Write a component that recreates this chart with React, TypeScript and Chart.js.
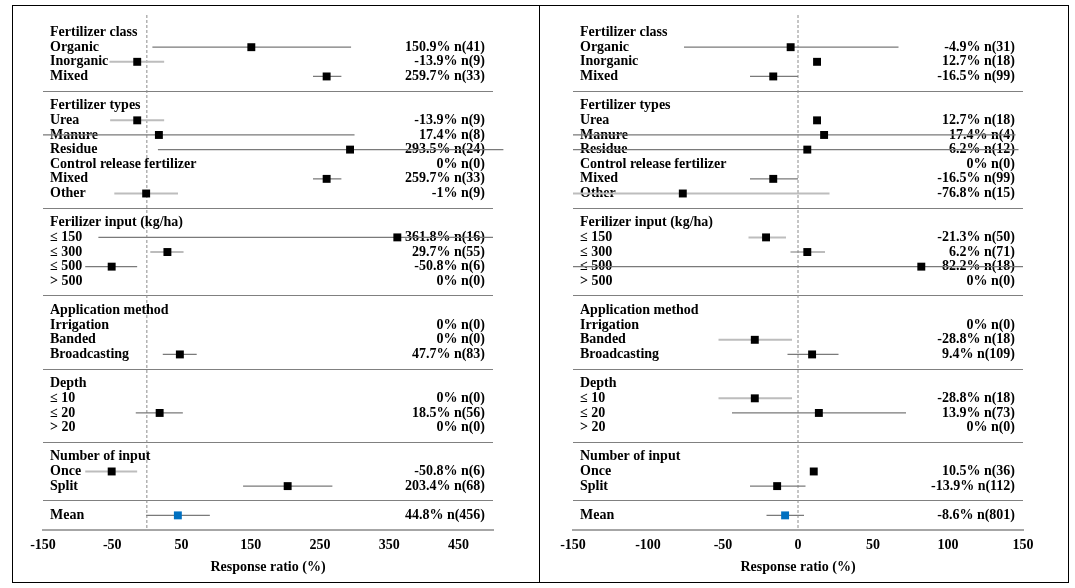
import React, { useEffect, useRef } from 'react';
import { Chart, registerables } from 'chart.js';

Chart.register(...registerables);

// ---- Rows (top to bottom) ----
const ROW_LABELS = [
  'Fertilizer class', 'Organic', 'Inorganic', 'Mixed', '',
  'Fertilizer types', 'Urea', 'Manure', 'Residue', 'Control release fertilizer', 'Mixed', 'Other', '',
  'Ferilizer input (kg/ha)', '≤ 150', '≤ 300', '≤ 500', '> 500', '',
  'Application method', 'Irrigation', 'Banded', 'Broadcasting', '',
  'Depth', '≤ 10', '≤ 20', '> 20', '',
  'Number of input', 'Once', 'Split', '',
  'Mean',
];
const SEPARATOR_ROWS = [4, 12, 18, 23, 28, 32];
const MEAN_ROW = 33;
const Y_MIN = -1.2;
const Y_MAX = 34;

// ---- Left panel ----
const A_EFFECT = [null, 150.9, -13.9, 259.7, null, null, -13.9, 17.4, 293.5, 0, 259.7, -1, null, null, 361.8, 29.7, -50.8, 0, null, null, 0, 0, 47.7, null, null, 0, 18.5, 0, null, null, -50.8, 203.4, null, 44.8];
const A_N = [null, 41, 9, 33, null, null, 9, 8, 24, 0, 33, 9, null, null, 16, 55, 6, 0, null, null, 0, 0, 83, null, null, 0, 56, 0, null, null, 6, 68, null, 456];
const A_LOW = [null, 8, -54, 240, null, null, -53, -150, 16, null, 240, -47, null, null, -70, 5, -89, null, null, null, null, null, 23, null, null, null, -16, null, null, null, -89, 139, null, -1];
const A_HIGH = [null, 295, 25, 281, null, null, 25, 300, 515, null, 281, 45, null, null, 500, 53, -14, null, null, null, null, null, 72, null, null, null, 52, null, null, null, -14, 268, null, 91];
const A_X_TICKS = [-150, -50, 50, 150, 250, 350, 450];
const A_X_MIN = -150;
const A_X_MAX = 500;

// ---- Right panel ----
const B_EFFECT = [null, -4.9, 12.7, -16.5, null, null, 12.7, 17.4, 6.2, 0, -16.5, -76.8, null, null, -21.3, 6.2, 82.2, 0, null, null, 0, -28.8, 9.4, null, null, -28.8, 13.9, 0, null, null, 10.5, -13.9, null, -8.6];
const B_N = [null, 31, 18, 99, null, null, 18, 4, 12, 0, 99, 15, null, null, 50, 71, 18, 0, null, null, 0, 18, 109, null, null, 18, 73, 0, null, null, 36, 112, null, 801];
const B_LOW = [null, -76, null, -32, null, null, null, -150, -150, null, -32, -150, null, null, -33, -5, -150, null, null, null, null, -53, -7, null, null, -53, -44, null, null, null, null, -32, null, -21];
const B_HIGH = [null, 67, null, 0, null, null, null, 145, 147, null, 0, 21, null, null, -8, 18, 150, null, null, null, null, -4, 27, null, null, -4, 72, null, null, null, null, 5, null, 4];
const B_X_TICKS = [-150, -100, -50, 0, 50, 100, 150];
const B_X_MIN = -150;
const B_X_MAX = 150;

// ---- Styling (not data) ----
const A_LIGHT_CI_ROWS = [2, 6, 11, 30];
const B_LIGHT_CI_ROWS = [11, 14, 21, 25];
const FONT_FAMILY = '"Liberation Serif", "Times New Roman", Times, serif';

type Panel = {
  effect: (number | null)[];
  n: (number | null)[];
  low: (number | null)[];
  high: (number | null)[];
  xMin: number;
  xMax: number;
  xTicks: number[];
  lightRows: number[];
  padLeft: number;
  padRight: number;
};

function buildConfig(p: Panel): any {
  const ciDark: any[] = [];
  const ciLight: any[] = [];
  p.effect.forEach((_v, r) => {
    const lo = p.low[r];
    const hi = p.high[r];
    if (lo == null || hi == null) return;
    const target = p.lightRows.includes(r) ? ciLight : ciDark;
    target.push({ x: lo, y: r }, { x: hi, y: r }, { x: null, y: null });
  });
  const points: any[] = [];
  const mean: any[] = [];
  p.effect.forEach((v, r) => {
    if (v == null || !p.n[r]) return;
    (r === MEAN_ROW ? mean : points).push({ x: v, y: r });
  });

  const labelPlugin = {
    id: 'rowLabels',
    afterDatasetDraw(chart: any, args: any) {
      if (args.index !== 4) return; // after the zero line
      const { ctx, chartArea, scales } = chart;
      ctx.save();
      ctx.font = `bold 14px ${FONT_FAMILY}`;
      ctx.fillStyle = '#000';
      ctx.textBaseline = 'middle';
      ROW_LABELS.forEach((label, r) => {
        if (!label) return;
        const y = scales.y.getPixelForValue(r);
        ctx.textAlign = 'left';
        ctx.fillText(label, chartArea.left + 7, y);
        const v = p.effect[r];
        if (v != null) {
          ctx.textAlign = 'right';
          ctx.fillText(`${v}% n(${p.n[r]})`, chartArea.right - 8, y);
        }
      });
      ctx.restore();
    },
  };

  const tickFont = { family: FONT_FAMILY, size: 14, weight: 'bold' as const };

  return {
    type: 'scatter',
    data: {
      datasets: [
        {
          label: 'Mean', data: mean, order: 0, showLine: false,
          pointStyle: 'rect', pointRadius: 5.6, pointBorderWidth: 0,
          backgroundColor: '#0070c0', borderColor: '#0070c0',
        },
        {
          label: 'Effect', data: points, order: 1, showLine: false,
          pointStyle: 'rect', pointRadius: 5.6, pointBorderWidth: 0,
          backgroundColor: '#000', borderColor: '#000',
        },
        {
          label: 'CI', data: ciDark, order: 2, showLine: true, spanGaps: false,
          borderColor: '#7a7a7a', borderWidth: 1.2, pointRadius: 0, clip: false,
        },
        {
          label: 'CI light', data: ciLight, order: 3, showLine: true, spanGaps: false,
          borderColor: '#bdbdbd', borderWidth: 2, pointRadius: 0, clip: false,
        },
        {
          label: 'Zero', data: [{ x: 0, y: Y_MIN }, { x: 0, y: Y_MAX }], order: 4,
          showLine: true, borderColor: '#8c8c8c', borderWidth: 1, borderDash: [3, 2], pointRadius: 0,
        },
      ],
    },
    options: {
      responsive: false,
      animation: false,
      events: [],
      layout: { padding: { left: p.padLeft, right: p.padRight, top: 9, bottom: 0 } },
      plugins: { legend: { display: false }, tooltip: { enabled: false } },
      scales: {
        x: {
          type: 'linear',
          min: p.xMin,
          max: p.xMax,
          afterBuildTicks: (s: any) => { s.ticks = p.xTicks.map((v) => ({ value: v })); },
          afterFit: (s: any) => { s.height = 52; },
          grid: { display: false, drawTicks: false },
          border: { display: true, color: '#a6a6a6', width: 2 },
          ticks: { color: '#000', font: tickFont, padding: 7, maxRotation: 0, autoSkip: false },
          title: {
            display: true, text: 'Response ratio (%)', color: '#000', font: tickFont,
            padding: { top: 0, bottom: 6 },
          },
        },
        y: {
          type: 'linear',
          reverse: true,
          min: Y_MIN,
          max: Y_MAX,
          afterBuildTicks: (s: any) => { s.ticks = SEPARATOR_ROWS.map((v) => ({ value: v })); },
          afterFit: (s: any) => { s.width = 0; },
          ticks: { display: false },
          grid: { color: '#808080', lineWidth: 1, drawTicks: false },
          border: { display: false },
        },
      },
    },
    plugins: [labelPlugin],
  };
}

export default function App() {
  const refA = useRef<HTMLCanvasElement | null>(null);
  const refB = useRef<HTMLCanvasElement | null>(null);

  useEffect(() => {
    const a = new Chart(refA.current as HTMLCanvasElement, buildConfig({
      effect: A_EFFECT, n: A_N, low: A_LOW, high: A_HIGH,
      xMin: A_X_MIN, xMax: A_X_MAX, xTicks: A_X_TICKS, lightRows: A_LIGHT_CI_ROWS,
      padLeft: 30, padRight: 46,
    }));
    const b = new Chart(refB.current as HTMLCanvasElement, buildConfig({
      effect: B_EFFECT, n: B_N, low: B_LOW, high: B_HIGH,
      xMin: B_X_MIN, xMax: B_X_MAX, xTicks: B_X_TICKS, lightRows: B_LIGHT_CI_ROWS,
      padLeft: 33, padRight: 45,
    }));
    return () => { a.destroy(); b.destroy(); };
  }, []);

  return (
    <div
      style={{
        position: 'absolute', left: 12, top: 5, width: 1057, height: 578,
        boxSizing: 'border-box', border: '1px solid #000', display: 'flex', background: '#fff',
      }}
    >
      <canvas ref={refA} width={526} height={576} style={{ display: 'block', width: 526, height: 576 }} />
      <div style={{ width: 1, height: 576, background: '#000' }} />
      <canvas ref={refB} width={528} height={576} style={{ display: 'block', width: 528, height: 576 }} />
    </div>
  );
}
